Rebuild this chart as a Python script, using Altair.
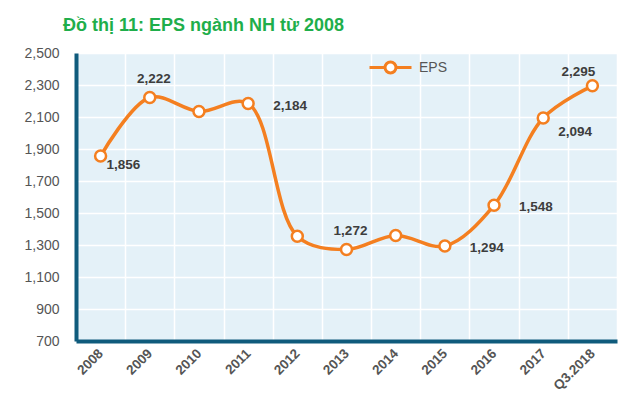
import altair as alt
import pandas as pd

# ---- data ----
periods = ["2008", "2009", "2010", "2011", "2012", "2013", "2014", "2015", "2016", "2017", "Q3.2018"]
eps = [1856, 2222, 2135, 2184, 1355, 1272, 1360, 1294, 1548, 2094, 2295]
series_name = ["EPS"] * len(periods)
y_ticks = [700, 900, 1100, 1300, 1500, 1700, 1900, 2100, 2300, 2500]
title_text = "Đồ thị 11: EPS ngành NH từ 2008"

# label placement groups (which points carry a label, and where)
lab_above = ["2009", "2013"]
lab_above_left = ["Q3.2018"]
lab_right = ["2011", "2015", "2016"]
lab_below_right_near = ["2008"]
lab_below_right_far = ["2017"]

df = pd.DataFrame({"period": periods, "eps": eps, "series": series_name})

ORANGE = "#f47f20"
BORDER = "#0f5b7c"
FONT = "Liberation Sans"

x_enc = alt.X(
    "period:N",
    sort=periods,
    scale=alt.Scale(type="band", paddingInner=0, paddingOuter=0),
    axis=alt.Axis(
        title=None,
        labelAngle=-45,
        labelAlign="right",
        labelBaseline="middle",
        labelFont=FONT,
        labelFontWeight="bold",
        labelFontSize=13.5,
        labelColor="#555555",
        labelPadding=10,
        ticks=False,
        grid=True,
        gridColor="white",
        gridWidth=1.5,
        tickBand="extent",
        domainColor=BORDER,
        domainWidth=4,
    ),
)
y_enc = alt.Y(
    "eps:Q",
    scale=alt.Scale(domain=[700, 2500], nice=False, zero=False),
    axis=alt.Axis(
        title=None,
        values=y_ticks,
        format=",.0f",
        labelFont=FONT,
        labelFontSize=14,
        labelColor="#555555",
        labelPadding=17,
        ticks=False,
        grid=True,
        gridColor="white",
        gridWidth=1.5,
        domainColor=BORDER,
        domainWidth=4,
        minExtent=68,
        maxExtent=68,
    ),
)

base = alt.Chart(df).encode(x=x_enc, y=y_enc)

legend_symbol = "M-1,0L-0.26,0M0.26,0L1,0M-0.26,0A0.26,0.26,0,1,1,0.26,0A0.26,0.26,0,1,1,-0.26,0Z"

line = base.mark_line(interpolate="catmull-rom", strokeWidth=3.5).encode(
    color=alt.Color(
        "series:N",
        scale=alt.Scale(domain=["EPS"], range=[ORANGE]),
        legend=alt.Legend(
            title=None,
            orient="none",
            legendX=292,
            legendY=-8,
            symbolType=legend_symbol,
            symbolSize=1764,
            symbolStrokeWidth=3,
            symbolStrokeColor=ORANGE,
            symbolFillColor="white",
            labelFont=FONT,
            labelFontSize=14,
            labelColor="#555555",
            labelOffset=6,
        ),
    )
)

points = base.mark_point(
    filled=True, fill="white", stroke=ORANGE, strokeWidth=2.5, size=120, opacity=1
)

text_style = dict(font=FONT, fontSize=13.5, fontWeight="bold", color="#3d3d3d", baseline="middle")

def label_layer(cats, **kw):
    return (
        base.mark_text(**text_style, **kw)
        .encode(text=alt.Text("eps:Q", format=","))
        .transform_filter(alt.FieldOneOfPredicate(field="period", oneOf=cats))
    )

labels = [
    label_layer(lab_above, align="center", dx=4, dy=-18),
    label_layer(lab_above_left, align="center", dx=-14, dy=-14),
    label_layer(lab_right, align="left", dx=25, dy=2),
    label_layer(lab_below_right_near, align="left", dx=6, dy=9),
    label_layer(lab_below_right_far, align="left", dx=15, dy=14),
]

chart = (
    alt.layer(line, points, *labels)
    .properties(
        width=541,
        height=288,
        padding={"left": 0, "top": 9, "right": 5, "bottom": 0},
        title=alt.TitleParams(
            title_text,
            anchor="start",
            frame="group",
            dx=-13,
            offset=10,
            font=FONT,
            fontSize=18,
            fontWeight="bold",
            color="#1fae4b",
        ),
        background="white",
    )
    .configure_view(fill="#e4f1f8", stroke=None)
)

chart.save("out.html", embed_options={"renderer": "svg", "actions": False})
